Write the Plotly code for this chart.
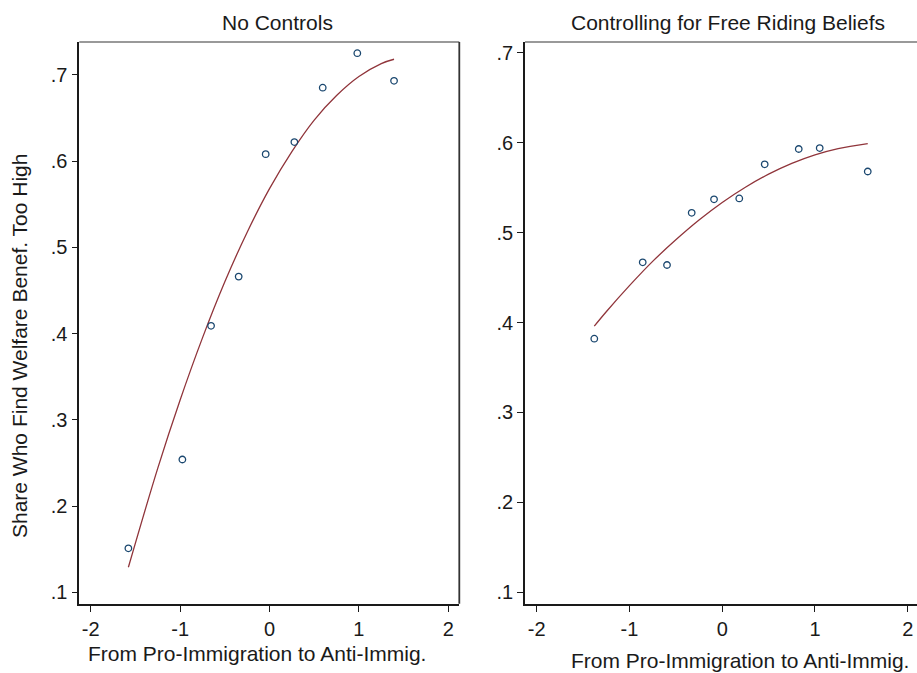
import plotly.graph_objects as go

W, H = 917, 673

# Binned scatter values: position on the immigration-attitude index vs share
# who find welfare benefits too high
left_x = [-1.579, -0.975, -0.654, -0.345, -0.043, 0.278, 0.595, 0.982, 1.393]
left_y = [0.151, 0.254, 0.409, 0.466, 0.608, 0.622, 0.685, 0.725, 0.693]

right_x = [-1.379, -0.857, -0.595, -0.329, -0.088, 0.184, 0.458, 0.825, 1.051, 1.569]
right_y = [0.382, 0.467, 0.464, 0.522, 0.537, 0.538, 0.576, 0.593, 0.594, 0.568]

# Quadratic fit lines, sampled along the index
left_fit_x = [-1.579, -1.25, -1.0, -0.75, -0.5, -0.25, 0.0, 0.25, 0.5, 0.75, 1.0, 1.25, 1.393]
left_fit_y = [0.129, 0.244, 0.323, 0.395, 0.460, 0.5175, 0.568, 0.611, 0.6475, 0.676, 0.698, 0.713, 0.718]

right_fit_x = [-1.379, -1.25, -1.0, -0.75, -0.5, -0.25, 0.0, 0.25, 0.5, 0.75, 1.0, 1.25, 1.569]
right_fit_y = [0.396, 0.412, 0.441, 0.468, 0.492, 0.514, 0.5335, 0.5505, 0.565, 0.577, 0.5865, 0.5935, 0.599]

x_ticks = [-2, -1, 0, 1, 2]
x_tick_text = ["-2", "-1", "0", "1", "2"]
y_ticks = [0.1, 0.2, 0.3, 0.4, 0.5, 0.6, 0.7]
y_tick_text = [".1", ".2", ".3", ".4", ".5", ".6", ".7"]

titles = ["No Controls", "Controlling for Free Riding Beliefs"]
x_title = "From Pro-Immigration to Anti-Immig."
y_title = "Share Who Find Welfare Benef. Too High"

NAVY = "#1a476f"
MAROON = "#90353b"
INK = "#1a1a1a"
FONT = "Liberation Sans, Arial, Helvetica, sans-serif"


def px(x):
    return x / W


def py(y):
    return 1 - y / H


fig = go.Figure()

# Left panel
fig.add_trace(go.Scatter(
    x=left_fit_x, y=left_fit_y, mode="lines", xaxis="x", yaxis="y",
    line=dict(color=MAROON, width=1.3, shape="spline", smoothing=1.0),
    hoverinfo="skip", showlegend=False))
fig.add_trace(go.Scatter(
    x=left_x, y=left_y, mode="markers", xaxis="x", yaxis="y",
    marker=dict(symbol="circle-open", size=6.5, color=NAVY, line=dict(width=1.3)),
    showlegend=False))

# Right panel
fig.add_trace(go.Scatter(
    x=right_fit_x, y=right_fit_y, mode="lines", xaxis="x2", yaxis="y2",
    line=dict(color=MAROON, width=1.3, shape="spline", smoothing=1.0),
    hoverinfo="skip", showlegend=False))
fig.add_trace(go.Scatter(
    x=right_x, y=right_y, mode="markers", xaxis="x2", yaxis="y2",
    marker=dict(symbol="circle-open", size=6.5, color=NAVY, line=dict(width=1.3)),
    showlegend=False))

ydom = [py(603.7), py(42)]
left_dom = [px(79.3), px(459.3)]
right_dom = [px(525), 1.0]

common_x = dict(
    tickmode="array", tickvals=x_ticks, ticktext=x_tick_text,
    ticks="outside", ticklen=6, tickwidth=1.3, tickcolor=INK,
    showline=True, linecolor=INK, linewidth=1.6,
    showgrid=False, zeroline=False,
    tickfont=dict(family=FONT, size=20, color=INK),
)
common_y = dict(
    tickmode="array", tickvals=y_ticks, ticktext=y_tick_text,
    ticks="outside", ticklen=6, tickwidth=1.3, tickcolor=INK,
    showline=True, linecolor=INK, linewidth=1.6,
    showgrid=False, zeroline=False,
    tickfont=dict(family=FONT, size=20, color=INK),
)

fig.update_layout(
    width=W, height=H,
    margin=dict(l=0, r=0, t=0, b=0),
    paper_bgcolor="white", plot_bgcolor="white",
    showlegend=False,
    xaxis=dict(domain=left_dom, range=[-2.128, 2.123], anchor="y", **common_x),
    yaxis=dict(domain=ydom, range=[0.0868, 0.738], anchor="x", **common_y),
    xaxis2=dict(domain=right_dom, range=[-2.126, 2.100], anchor="y2", **common_x),
    yaxis2=dict(domain=ydom, range=[0.0873, 0.712], anchor="x2", **common_y),
)

# Frame: grey top edges, dark right edge on the left panel
shapes = [
    dict(type="line", xref="paper", yref="paper",
         x0=left_dom[0], x1=left_dom[1], y0=ydom[1], y1=ydom[1],
         line=dict(color="#777777", width=1.6)),
    dict(type="line", xref="paper", yref="paper",
         x0=left_dom[1], x1=left_dom[1], y0=ydom[0], y1=ydom[1],
         line=dict(color="#333333", width=1.8)),
    dict(type="line", xref="paper", yref="paper",
         x0=right_dom[0], x1=right_dom[1], y0=ydom[1], y1=ydom[1],
         line=dict(color="#777777", width=1.6)),
]
fig.update_layout(shapes=shapes)

annotations = [
    dict(text=titles[0], x=px(277.7), y=py(23), xref="paper", yref="paper",
         showarrow=False, xanchor="center", yanchor="middle",
         font=dict(family=FONT, size=21, color=INK)),
    dict(text=titles[1], x=px(727.7), y=py(23), xref="paper", yref="paper",
         showarrow=False, xanchor="center", yanchor="middle",
         font=dict(family=FONT, size=21, color=INK)),
    dict(text=x_title, x=px(257.3), y=py(653), xref="paper", yref="paper",
         showarrow=False, xanchor="center", yanchor="middle",
         font=dict(family=FONT, size=21, color=INK)),
    dict(text=x_title, x=px(740), y=py(660), xref="paper", yref="paper",
         showarrow=False, xanchor="center", yanchor="middle",
         font=dict(family=FONT, size=21, color=INK)),
    dict(text=y_title, x=px(20), y=py(346), xref="paper", yref="paper",
         showarrow=False, xanchor="center", yanchor="middle", textangle=-90,
         font=dict(family=FONT, size=21, color=INK)),
]
fig.update_layout(annotations=annotations)

fig.write_html("out.html")
